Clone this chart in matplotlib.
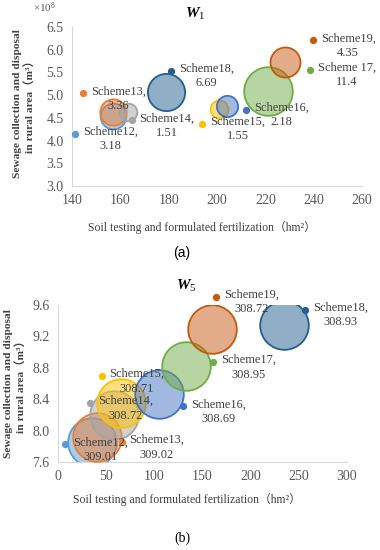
import numpy as np
import matplotlib as mpl
mpl.use('Agg')
import matplotlib.pyplot as plt
from matplotlib.transforms import offset_copy

plt.rcParams['font.family'] = ['Liberation Serif', 'Noto Sans CJK SC']
plt.rcParams['mathtext.fontset'] = 'custom'
plt.rcParams['mathtext.rm'] = 'Liberation Serif'
plt.rcParams['mathtext.it'] = 'Liberation Serif:italic:bold'

# data
a_names = ['Scheme12', 'Scheme13', 'Scheme14', 'Scheme15', 'Scheme16', 'Scheme 17', 'Scheme18', 'Scheme19']
a_x = [157, 157, 163, 201, 204, 221, 179, 228]
a_y = [4.55, 4.62, 4.62, 4.70, 4.77, 5.10, 5.08, 5.72]
a_size = [3.18, 3.36, 1.51, 1.55, 2.18, 11.4, 6.69, 4.35]

b_names = ['Scheme12', 'Scheme13', 'Scheme14', 'Scheme15', 'Scheme16', 'Scheme17', 'Scheme18', 'Scheme19']
b_x = [35, 40, 58, 65, 105, 133, 235, 160]
b_y = [7.85, 7.92, 8.20, 8.35, 8.46, 8.82, 9.35, 9.30]
b_size = [309.01, 309.02, 308.72, 308.71, 308.69, 308.95, 308.93, 308.72]

a_xticks = [140, 160, 180, 200, 220, 240, 260]
a_yticks = [3.0, 3.5, 4.0, 4.5, 5.0, 5.5, 6.0, 6.5]
b_xticks = [0, 50, 100, 150, 200, 250, 300]
b_yticks = [7.6, 8.0, 8.4, 8.8, 9.2, 9.6]

# office palette, one per scheme
colors = ['#5B9BD5', '#ED7D31', '#A5A5A5', '#FFC000', '#4472C4', '#70AD47', '#255E91', '#C55A11']

# label key offsets from bubble centre, in pixels
a_off = [(-38, -18), (-30, 19), (4, -8), (-17, -15), (19, -4), (42, 21), (5, 21), (28, 22)]
b_off = [(-27, -2), (25, -5), (-24, 12), (-19, 27), (24, -12), (27, 4), (21, 15), (4, 32)]

txtcol = '#404040'
tickcol = '#595959'
maxd = 35.0  # diameter (pt) of the biggest bubble

fig = plt.figure(figsize=(3.8, 5.5), dpi=100)
axa = fig.add_axes([72/380, 1-186/550, 290/380, 159/550])
axb = fig.add_axes([58/380, 1-462/550, 289/380, 157/550])


def bubbles(ax, names, xs, ys, sizes, offs):
    smax = max(sizes)
    for i in range(len(xs)):
        c = colors[i]
        s = maxd**2 * sizes[i] / smax
        ax.scatter(xs[i], ys[i], s=s, facecolor=mpl.colors.to_rgba(c, 0.5),
                   edgecolor=c, linewidth=1.3, zorder=2+i)
        dx, dy = offs[i]
        tr = offset_copy(ax.transData, fig=fig, x=dx, y=dy, units='dots')
        ax.plot(xs[i], ys[i], 'o', ms=4.2, color=c, transform=tr, clip_on=False, zorder=20)
        tr2 = offset_copy(ax.transData, fig=fig, x=dx+8, y=dy+8, units='dots')
        ax.text(xs[i], ys[i], f'{names[i]},\n{sizes[i]:g}', transform=tr2, ha='left', va='top',
                multialignment='center', fontsize=8.9, color=txtcol, linespacing=1.3, zorder=21)


def style(ax, xt, yt):
    ax.set_xticks(xt)
    ax.set_yticks(yt)
    ax.set_xlim(xt[0], xt[-1])
    ax.set_ylim(yt[0], yt[-1])
    ax.yaxis.set_major_formatter(mpl.ticker.FormatStrFormatter('%.1f'))
    ax.tick_params(length=0, labelsize=10, labelcolor=tickcol, pad=6)
    for sp in ['top', 'right']:
        ax.spines[sp].set_visible(False)
    for sp in ['left', 'bottom']:
        ax.spines[sp].set_color('#D9D9D9')
        ax.spines[sp].set_linewidth(0.8)


bubbles(axa, a_names, a_x, a_y, a_size, a_off)
style(axa, a_xticks, a_yticks)
bubbles(axb, b_names, b_x, b_y, b_size, b_off)
style(axb, b_xticks, b_yticks)

ylab = 'Sewage collection and disposal\nin rural area（m³）'
xlab = 'Soil testing and formulated fertilization（hm²）'

# panel a texts
fig.text(195/380, 1-14/550, r'$\mathit{W_{1}}$', ha='center', va='center', fontsize=11)
fig.text(45/380, 1-8/550, '×10$^{8}$', ha='center', va='center', fontsize=8, color=tickcol)
fig.text(24/380, 1-104/550, ylab, rotation=90, ha='center', va='center', multialignment='center',
         fontsize=8.2, fontweight='bold', color=txtcol, linespacing=1.15)
fig.text(202/380, 1-227/550, xlab, ha='center', va='center', fontsize=8.5, color=txtcol)
fig.text(182/380, 1-253/550, '(a)', ha='center', va='center', fontsize=10, family='Liberation Sans')

# panel b texts
fig.text(186/380, 1-286/550, r'$\mathit{W_{5}}$', ha='center', va='center', fontsize=11)
fig.text(15/380, 1-384/550, ylab, rotation=90, ha='center', va='center', multialignment='center',
         fontsize=8.2, fontweight='bold', color=txtcol, linespacing=1.15)
fig.text(187/380, 1-499/550, xlab, ha='center', va='center', fontsize=8.5, color=txtcol)
fig.text(182/380, 1-538/550, '(b)', ha='center', va='center', fontsize=10)

fig.savefig('out.png', dpi=100)
